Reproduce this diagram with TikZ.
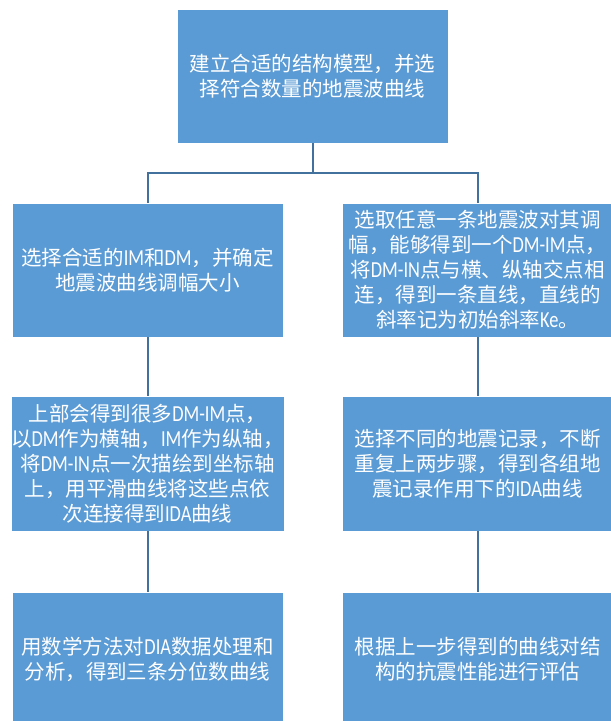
\documentclass[tikz,border=0pt]{standalone}
\usepackage{fontspec}
\setmainfont{Noto Sans CJK SC}
\newfontfamily\latfont[Scale=1.12,FakeStretch=0.8]{Carlito}
\newcommand\la[1]{{\latfont #1}}
\definecolor{boxblue}{HTML}{5B9BD5}
\definecolor{linkblue}{HTML}{41719C}
\begin{document}
\begin{tikzpicture}[x=1pt,y=-1pt,
  stepbox/.style={rectangle, fill=boxblue, draw=white, line width=0.8pt,
    minimum width=271pt, minimum height=134pt, inner sep=0pt,
    text=white, align=center, font=\fontsize{20.5}{25}\selectfont},
  link/.style={draw=linkblue, line width=2pt}]
\clip (0,0) rectangle (611,721);
\fill[white] (0,0) rectangle (611,721);

\node[stepbox] (top) at (312.5,76) {建立合适的结构模型，并选\\择符合数量的地震波曲线};

\node[stepbox] (l2) at (147.5,270) {选择合适的\la{IM}和\la{DM}，并确定\\地震波曲线调幅大小};
\node[stepbox] (r2) at (477.5,270) {选取任意一条地震波对其调\\幅，能够得到一个\la{DM-IM}点，\\将\la{DM-IN}点与横、纵轴交点相\\连，得到一条直线，直线的\\斜率记为初始斜率\la{Ke}。};

\node[stepbox, minimum height=135pt] (l3) at (147.5,463.5) {上部会得到很多\la{DM-IM}点，\\以\la{DM}作为横轴，\la{IM}作为纵轴，\\将\la{DM-IN}点一次描绘到坐标轴\\上，用平滑曲线将这些点依\\次连接得到\la{IDA}曲线};
\node[stepbox, minimum height=135pt] (r3) at (477.5,463.5) {选择不同的地震记录，不断\\重复上两步骤，得到各组地\\震记录作用下的\la{IDA}曲线};

\node[stepbox] (l4) at (147.5,659) {用数学方法对\la{DIA}数据处理和\\分析，得到三条分位数曲线};
\node[stepbox] (r4) at (477.5,659) {根据上一步得到的曲线对结\\构的抗震性能进行评估};

\coordinate (j) at (312.5,173);
\draw[link] (top.south) -- (j);
\draw[link] (l2.north) |- (j) -| (r2.north);
\draw[link] (l2.south) -- (l3.north);
\draw[link] (l3.south) -- (l4.north);
\draw[link] (r2.south) -- (r3.north);
\draw[link] (r3.south) -- (r4.north);
\end{tikzpicture}
\end{document}
